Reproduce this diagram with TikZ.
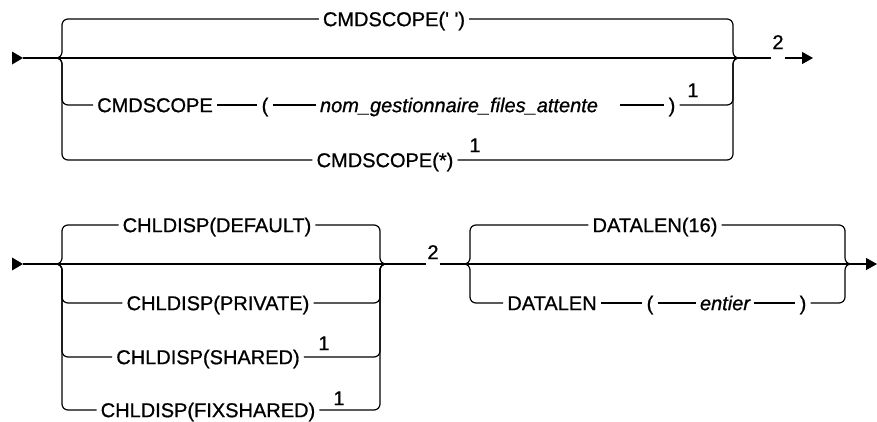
\documentclass[tikz,border=0pt]{standalone}
\usepackage{fontspec}
\setmainfont{Liberation Sans}
\newfontfamily\railfont{Liberation Sans}[FakeBold=0.8]
\usepackage{tikz}
\usetikzlibrary{arrows.meta, calc}

\begin{document}
\begin{tikzpicture}[
  x=1pt, y=-1pt,
  kw/.style={inner xsep=4pt, inner ysep=0pt, text height=14.3pt, text depth=0pt, font=\railfont\fontsize{20}{22}\selectfont},
  var/.style={kw, font=\railfont\fontsize{20}{22}\selectfont\itshape},
  note/.style={inner xsep=1pt, inner ysep=0pt, text height=14.3pt, text depth=0pt, font=\railfont\fontsize{20}{22}\selectfont},
  track/.style={line width=1.2pt, rounded corners=6pt},
  endarrow/.style={line width=1.2pt, -{Triangle[length=11pt, width=12pt]}}
]
  \useasboundingbox (0,0) rectangle (877,421);

  % Junction points of the first diagram (CMDSCOPE)
  \coordinate (tin) at (23,58);
  \coordinate (tl) at (54,58);
  \coordinate (tlb) at (62,58);
  \coordinate (trb) at (733,58);
  \coordinate (tr) at (739,58);
  \coordinate (tout) at (813,58);

  % Texts of the first diagram
  \node[kw] (sc1) at (394,19) {CMDSCOPE(' ')};
  \node[kw] (cmd) at (155,105) {CMDSCOPE};
  \node[kw] (lp) at (265,105) {(};
  \node[var] (nom) at (459,105) {nom\_gestionnaire\_files\_attente};
  \node[kw] (rp) at (672,105) {)};
  \node[kw] (star) at (385,160) {CMDSCOPE(*)};
  \node[note] (n1a) at (693,90) {1};
  \node[note] (n1b) at (475,145) {1};
  \node[note] (n2a) at (778,42) {2};

  % Main line and its branches
  \fill (tin) -- ++(-11,-6.5) -- ++(0,13) -- cycle;
  \draw[track] (tin) -- (n2a.west |- tin);
  \draw[endarrow] (n2a.east |- tin) -- (tout);
  \draw[track] (tl) -| (tlb |- sc1.west) -- (sc1.west);
  \draw[track] (sc1.east) -| (trb) -- (tr);
  \draw[track] (tl) -| (tlb |- cmd.west) -- (cmd.west);
  \draw[track] (cmd.east) -- (lp.west);
  \draw[track] (lp.east) -- (nom.west);
  \draw[track] ([xshift=18pt]nom.east) -- (rp.west);
  \draw[track] (rp.east) -| (trb) -- (tr);
  \draw[track] (tl) -| (tlb |- star.west) -- (star.west);
  \draw[track] (star.east) -| (trb) -- (tr);

  % Junction points of the second diagram (CHLDISP, DATALEN)
  \coordinate (bin) at (23,264);
  \coordinate (bl) at (54,264);
  \coordinate (blb) at (62,264);
  \coordinate (brb) at (380,264);
  \coordinate (br) at (387,264);
  \coordinate (dl) at (463,264);
  \coordinate (dlb) at (470,264);
  \coordinate (drb) at (845,264);
  \coordinate (dr) at (852,264);
  \coordinate (bout) at (877,264);

  % Texts of the second diagram
  \node[kw] (def) at (217,225) {CHLDISP(DEFAULT)};
  \node[kw] (priv) at (218,303) {CHLDISP(PRIVATE)};
  \node[kw] (shar) at (208,357) {CHLDISP(SHARED)};
  \node[kw] (fix) at (208,410) {CHLDISP(FIXSHARED)};
  \node[note] (n1c) at (324,343) {1};
  \node[note] (n1d) at (339,398) {1};
  \node[note] (n2b) at (433,252) {2};
  \node[kw] (d16) at (655,225) {DATALEN(16)};
  \node[kw] (dlen) at (552,303) {DATALEN};
  \node[kw] (lp2) at (650,303) {(};
  \node[var] (ent) at (725,303) {entier};
  \node[kw] (rp2) at (803,303) {)};

  % Main line and its branches
  \fill (bin) -- ++(-11,-6.5) -- ++(0,13) -- cycle;
  \draw[track] (bin) -- (n2b.west |- bin);
  \draw[endarrow] (n2b.east |- bin) -- (bout);
  \draw[track] (bl) -| (blb |- def.west) -- (def.west);
  \draw[track] (def.east) -| (brb) -- (br);
  \draw[track] (bl) -| (blb |- priv.west) -- (priv.west);
  \draw[track] (priv.east) -| (brb) -- (br);
  \draw[track] (bl) -| (blb |- shar.west) -- (shar.west);
  \draw[track] (shar.east) -| (brb) -- (br);
  \draw[track] (bl) -| (blb |- fix.west) -- (fix.west);
  \draw[track] (fix.east) -| (brb) -- (br);
  \draw[track] (dl) -| (dlb |- d16.west) -- (d16.west);
  \draw[track] (d16.east) -| (drb) -- (dr);
  \draw[track] (dl) -| (dlb |- dlen.west) -- (dlen.west);
  \draw[track] (dlen.east) -- (lp2.west);
  \draw[track] (lp2.east) -- (ent.west);
  \draw[track] (ent.east) -- (rp2.west);
  \draw[track] (rp2.east) -| (drb) -- (dr);

\end{tikzpicture}
\end{document}
